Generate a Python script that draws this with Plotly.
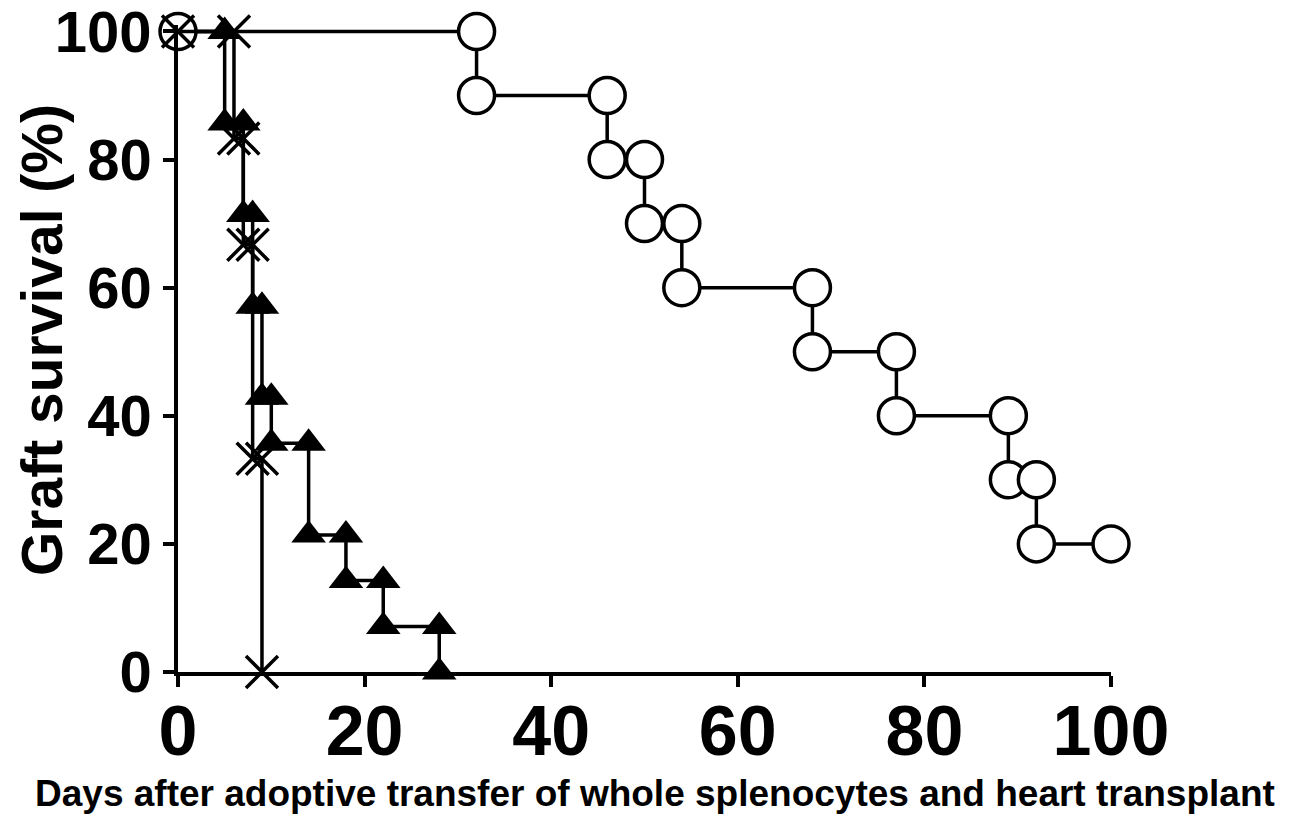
import plotly.graph_objects as go

# ---- data ----
circle_days = [32, 46, 50, 54, 68, 77, 89, 92]
circle_surv = [100, 90, 80, 70, 60, 50, 40, 30, 20]
circle_last_day = 100

cross_days = [6, 7, 8, 9]
cross_surv = [100, 83.3, 66.7, 33.3, 0]

tri_days = [5, 7, 8, 9, 10, 14, 18, 22, 28]
tri_surv = [100, 85.7, 71.4, 57.1, 42.9, 35.7, 21.4, 14.3, 7.1, 0]

x_ticks = [0, 20, 40, 60, 80, 100]
y_ticks = [0, 20, 40, 60, 80, 100]


def km_steps(days, surv, last_day=None):
    xs, ys = [0], [surv[0]]
    for i, d in enumerate(days):
        xs += [d, d]
        ys += [surv[i], surv[i + 1]]
    if last_day is not None:
        xs.append(last_day)
        ys.append(surv[-1])
    return xs, ys


LW = 3.5
fig = go.Figure()

tx, ty = km_steps(tri_days, tri_surv)
fig.add_trace(go.Scatter(
    x=tx, y=ty, mode="lines+markers",
    line=dict(color="black", width=LW),
    marker=dict(symbol="triangle-up", size=30, color="black"),
    cliponaxis=False, showlegend=False))

cx, cy = km_steps(circle_days, circle_surv, circle_last_day)
fig.add_trace(go.Scatter(
    x=cx, y=cy, mode="lines+markers",
    line=dict(color="black", width=LW),
    marker=dict(symbol="circle", size=36, color="white",
                line=dict(color="black", width=3.5)),
    cliponaxis=False, showlegend=False))

xx, xy = km_steps(cross_days, cross_surv)
fig.add_trace(go.Scatter(
    x=xx, y=xy, mode="lines+markers",
    line=dict(color="black", width=LW),
    marker=dict(symbol="x-thin", size=32, color="black",
                line=dict(color="black", width=3.5)),
    cliponaxis=False, showlegend=False))

font_family = "Liberation Sans, Arial, sans-serif"

# page has an ~8px body margin; compensate so the plot lands where the reference has it
fig.update_layout(
    width=1289, height=814,
    margin=dict(l=170, r=186, t=17, b=150, autoexpand=False),
    plot_bgcolor="white", paper_bgcolor="white",
    font=dict(family=font_family, color="black"),
    xaxis=dict(
        range=[0, 100], tickvals=x_ticks, ticktext=[str(v) for v in x_ticks],
        showgrid=False, zeroline=False, showline=True, linecolor="black",
        linewidth=3.5, ticks="outside", ticklen=11, tickwidth=3.5,
        tickcolor="black", automargin=False, ticklabeloverflow="allow",
        ticklabelstandoff=-16,
        tickfont=dict(family=font_family, size=70, color="black", weight="bold"),
    ),
    yaxis=dict(
        range=[0, 101], tickvals=y_ticks, ticktext=[str(v) for v in y_ticks],
        showgrid=False, zeroline=False, showline=True, linecolor="black",
        linewidth=3.5, ticks="outside", ticklen=11, tickwidth=3.5,
        tickcolor="black", automargin=False, ticklabeloverflow="allow",
        tickfont=dict(family=font_family, size=58, color="black", weight="bold"),
    ),
    annotations=[
        dict(text="<b>Days after adoptive transfer of whole splenocytes and heart transplant</b>",
             xref="paper", yref="paper", x=(655 - 178) / 933, y=-121 / 647,
             xanchor="center", yanchor="middle", showarrow=False,
             font=dict(family=font_family, size=37, color="black")),
        dict(text="<b>Graft survival (%)</b>",
             xref="paper", yref="paper", x=(42 - 178) / 933, y=(672 - 340) / 647,
             xanchor="center", yanchor="middle", showarrow=False, textangle=-90,
             font=dict(family=font_family, size=57, color="black")),
    ],
)

fig.write_html("out.html")
